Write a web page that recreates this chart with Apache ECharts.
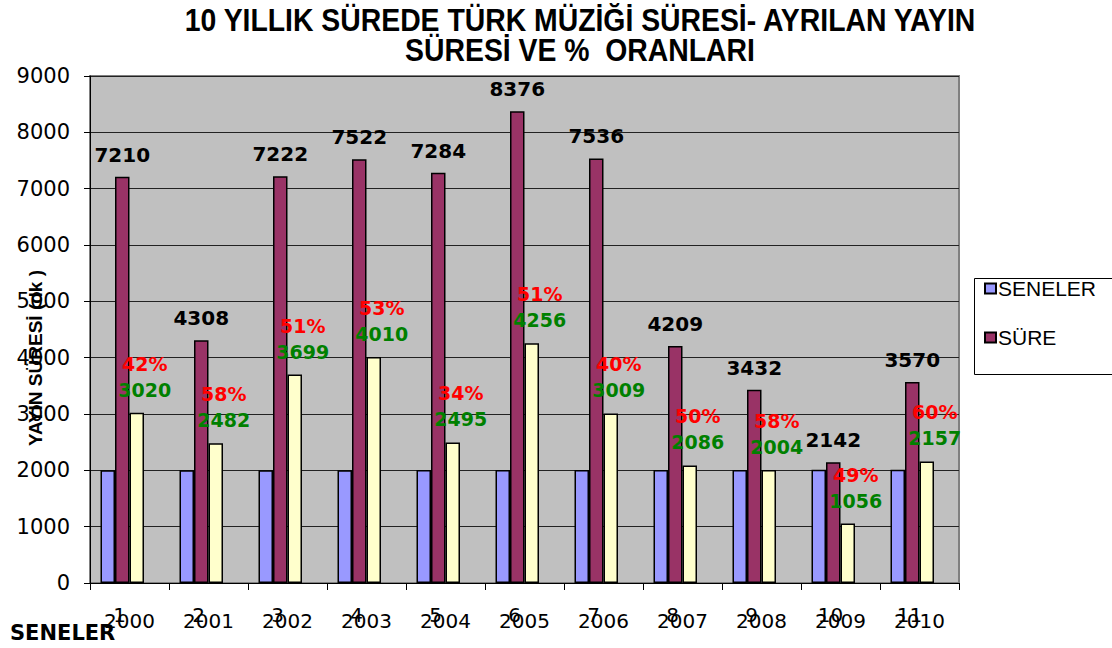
<!DOCTYPE html>
<html>
<head>
<meta charset="utf-8">
<script src="https://cdn.jsdelivr.net/npm/echarts@6/dist/echarts.min.js"></script>
<style>
  html, body { margin: 0; padding: 0; background: #fff; }
  #box { width: 1112px; height: 648px; }
</style>
</head>
<body>
<div id="box"></div>
<script>
// kategori numaralari ve seneler (x ekseninde ust uste yazili)
let categories = ["1", "2", "3", "4", "5", "6", "7", "8", "9", "10", "11"];
let years = ["2000", "2001", "2002", "2003", "2004", "2005", "2006", "2007", "2008", "2009", "2010"];
// seriler
let seneler = [2000, 2001, 2002, 2003, 2004, 2005, 2006, 2007, 2008, 2009, 2010];
let sure = [7210, 4308, 7222, 7522, 7284, 8376, 7536, 4209, 3432, 2142, 3570];
let turkMuzigi = [3020, 2482, 3699, 4010, 2495, 4256, 3009, 2086, 2004, 1056, 2157];
let oran = [42, 58, 51, 53, 34, 51, 40, 50, 58, 49, 60];
let yTicks = [0, 1000, 2000, 3000, 4000, 5000, 6000, 7000, 8000, 9000];

let wide = "'DejaVu Sans', Verdana, sans-serif";
let arial = "'Liberation Sans', Arial, sans-serif";
let chart = echarts.init(document.getElementById("box"), null, { renderer: "svg" });

let barBorder = { borderColor: "#000", borderWidth: 1.5 };

// baslik: dar (narrow) gorunum icin yatayda sikistirilmis
function titleLine(txt, y) {
  return {
    type: "text",
    x: 580,
    y: y,
    scaleX: 0.915,
    style: {
      text: txt,
      font: "bold 31px 'Liberation Sans', Arial, sans-serif",
      fill: "#000",
      textAlign: "center",
      textVerticalAlign: "middle"
    },
    z: 100
  };
}

let option = {
  animation: false,
  backgroundColor: "#fff",
  textStyle: { fontFamily: wide },
  legend: {
    data: ["SENELER", "SÜRE"],
    orient: "vertical",
    left: 979,
    top: 273,
    itemWidth: 11,
    itemHeight: 10,
    itemGap: 28,
    icon: "rect",
    textStyle: { fontFamily: arial, fontSize: 21, color: "#000", padding: [0, 0, 0, -3] }
  },
  graphic: [
    titleLine("10 YILLIK SÜREDE TÜRK MÜZİĞİ SÜRESİ- AYRILAN YAYIN", 20),
    titleLine("SÜRESİ VE %  ORANLARI", 50),
    {
      type: "rect",
      left: 972,
      top: 276,
      shape: { width: 160, height: 96 },
      style: { fill: "none", stroke: "#000", lineWidth: 1 },
      z: -1
    },
    {
      type: "text",
      x: 35,
      y: 358,
      rotation: Math.PI / 2,
      style: {
        text: "YAYIN SÜRESİ (dk )",
        font: "bold 19px 'Liberation Sans', Arial, sans-serif",
        fill: "#000",
        textAlign: "center",
        textVerticalAlign: "middle"
      },
      z: 100
    },
    {
      type: "text",
      left: 10,
      top: 622,
      style: {
        text: "SENELER",
        font: "bold 21px 'DejaVu Sans', Verdana, sans-serif",
        fill: "#000"
      },
      z: 100
    }
  ],
  grid: {
    left: 90,
    right: 153,
    top: 76,
    bottom: 65,
    show: true,
    backgroundColor: "#C0C0C0",
    borderColor: "#808080",
    borderWidth: 2
  },
  xAxis: [
    {
      type: "category",
      data: categories,
      position: "bottom",
      axisLine: { lineStyle: { color: "#000", width: 1 } },
      axisTick: { show: true, length: 7, lineStyle: { color: "#000" } },
      axisLabel: { fontFamily: wide, fontSize: 20, color: "#000", margin: 22, padding: [0, 20, 0, 0] }
    },
    {
      type: "category",
      data: years,
      position: "bottom",
      axisLine: { show: false },
      axisTick: { show: false },
      axisLabel: { fontFamily: wide, fontSize: 20, color: "#000", margin: 28 }
    }
  ],
  yAxis: {
    type: "value",
    min: 0,
    max: 9000,
    interval: 1000,
    axisLine: { show: true, lineStyle: { color: "#000", width: 1 } },
    axisTick: { show: true, length: 6, lineStyle: { color: "#000" } },
    axisLabel: {
      fontFamily: wide,
      fontSize: 21,
      color: "#000",
      margin: 20,
      formatter: v => (yTicks.indexOf(v) >= 0 ? String(v) : "")
    },
    splitLine: { lineStyle: { color: "#222", width: 1 } }
  },
  series: [
    {
      name: "SENELER",
      type: "bar",
      data: seneler,
      barWidth: 14.5,
      barGap: "0%",
      itemStyle: Object.assign({ color: "#9999FF" }, barBorder)
    },
    {
      name: "SÜRE",
      type: "bar",
      data: sure,
      barWidth: 14.5,
      barGap: "0%",
      itemStyle: Object.assign({ color: "#993366" }, barBorder),
      label: {
        show: true,
        position: "top",
        distance: 12,
        fontFamily: wide,
        fontSize: 20,
        fontWeight: "bold",
        color: "#000"
      }
    },
    {
      name: "TÜRK MÜZİĞİ",
      type: "bar",
      data: turkMuzigi,
      barWidth: 14.5,
      barGap: "0%",
      itemStyle: Object.assign({ color: "#FFFFCC" }, barBorder),
      label: {
        show: true,
        position: "top",
        distance: 10,
        offset: [8, 0],
        formatter: p => "{r|" + oran[p.dataIndex] + "%}\n{g|" + p.value + "}",
        rich: {
          r: { fontFamily: wide, fontSize: 19, fontWeight: "bold", color: "#FF0000", lineHeight: 26 },
          g: { fontFamily: wide, fontSize: 19, fontWeight: "bold", color: "#008000", lineHeight: 26 }
        }
      }
    },
    {
      name: "ORAN",
      type: "bar",
      data: oran.map(v => v / 100),
      barWidth: 14.5,
      barGap: "0%",
      itemStyle: { color: "rgba(0,0,0,0)" }
    }
  ]
};

chart.setOption(option);
</script>
</body>
</html>
